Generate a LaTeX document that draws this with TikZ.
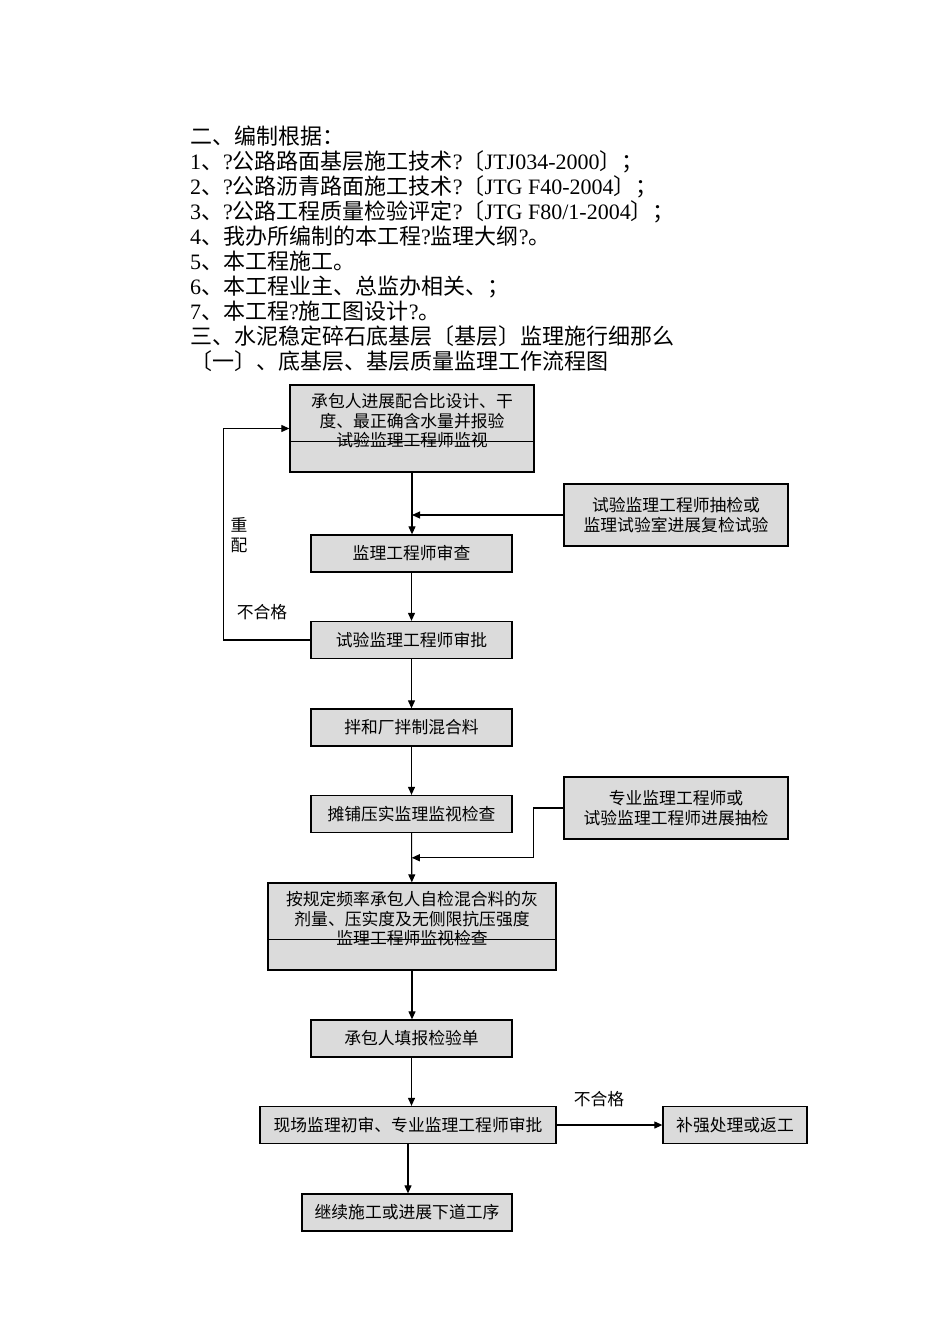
\documentclass[tikz,border=0pt]{standalone}
\usepackage{fontspec}
\setmainfont{Liberation Serif}
\newfontfamily\cjk{Noto Sans CJK SC}
\usetikzlibrary{arrows.meta,calc}
\definecolor{boxgray}{gray}{0.86}

\begin{document}
\begin{tikzpicture}[x=1pt,y=-1pt,
  box/.style={draw,line width=1.3pt,fill=boxgray,minimum height=37pt,inner sep=0pt,
    font=\cjk\fontsize{16.8}{19.5}\selectfont,align=center},
  txt/.style={inner sep=0pt,font=\cjk\fontsize{16.8}{19.5}\selectfont,align=center},
  lbl/.style={inner sep=0pt,font=\cjk\fontsize{16.8}{20}\selectfont,align=center},
  arr/.style={line width=1.1pt,-{Triangle[length=8pt,width=7pt]}}]
\useasboundingbox (0,0) rectangle (950,1344);

% header text
\node[inner sep=0pt,anchor=north west,align=left,font=\fontsize{22}{25}\selectfont] (kaitou) at (190,126) {%
  {\cjk 二、编制根据：}\\
  1{\cjk 、}?{\cjk 公路路面基层施工技术}?{\cjk 〔}JTJ034-2000{\cjk 〕；}\\
  2{\cjk 、}?{\cjk 公路沥青路面施工技术}?{\cjk 〔}JTG F40-2004{\cjk 〕；}\\
  3{\cjk 、}?{\cjk 公路工程质量检验评定}?{\cjk 〔}JTG F80/1-2004{\cjk 〕；}\\
  4{\cjk 、我办所编制的本工程}?{\cjk 监理大纲}?{\cjk 。}\\
  5{\cjk 、本工程施工。}\\
  6{\cjk 、本工程业主、总监办相关、；}\\
  7{\cjk 、本工程}?{\cjk 施工图设计}?{\cjk 。}\\
  {\cjk 三、水泥稳定碎石底基层〔基层〕监理施行细那么}\\
  {\cjk 〔一〕、底基层、基层质量监理工作流程图}};

% boxes
\node[box,minimum width=244pt,minimum height=87pt] (peihebi) at (412,428.5) {};
\node[txt] (peihebitxt) at (412,421) {承包人进展配合比设计、干\\度、最正确含水量并报验\\试验监理工程师监视};
\draw[line width=1pt] ($(peihebi.west)+(0,12.5)$) -- ($(peihebi.east)+(0,12.5)$);

\node[box,minimum width=224pt,minimum height=62pt] (choujian) at (676,515) {试验监理工程师抽检或\\监理试验室进展复检试验};
\node[box,minimum width=201pt] (shencha) at (411.5,553.5) {监理工程师审查};
\node[box,minimum width=201pt] (shenpi) at (411.5,640) {试验监理工程师审批};
\node[box,minimum width=201pt] (banhe) at (411.5,727.5) {拌和厂拌制混合料};
\node[box,minimum width=224pt,minimum height=62pt] (zhuanye) at (676,808) {专业监理工程师或\\试验监理工程师进展抽检};
\node[box,minimum width=201pt] (tanpu) at (411.5,814) {摊铺压实监理监视检查};

\node[box,minimum width=288pt,minimum height=87pt] (anguiding) at (412,926.5) {};
\node[txt] (anguidingtxt) at (412,919) {按规定频率承包人自检混合料的灰\\剂量、压实度及无侧限抗压强度\\监理工程师监视检查};
\draw[line width=1pt] ($(anguiding.west)+(0,12.5)$) -- ($(anguiding.east)+(0,12.5)$);

\node[box,minimum width=201pt] (tianbao) at (411.5,1038.5) {承包人填报检验单};
\node[box,minimum width=296pt] (chushen) at (408,1125) {现场监理初审、专业监理工程师审批};
\node[box,minimum width=144pt] (bujiang) at (735,1125) {补强处理或返工};
\node[box,minimum width=210pt] (jixu) at (407,1212.5) {继续施工或进展下道工序};

% labels
\node[lbl] (chongpei) at (239,535) {重\\配};
\node[lbl] (buhege1) at (262,612) {不合格};
\node[lbl] (buhege2) at (599,1099) {不合格};

% connectors
\draw[arr] (peihebi.south) -- (peihebi.south |- shencha.north);
\draw[arr] (choujian.west) -- (choujian.west -| peihebi.south);
\draw[arr] (shencha) -- (shenpi);
\draw[arr] (shenpi.west) -- ++(-87,0) |- (peihebi.west);
\draw[arr] (shenpi) -- (banhe);
\draw[arr] (banhe) -- (tanpu);
\draw[arr] (tanpu) -- (anguiding);
\draw[arr] (zhuanye.west) -- ++(-30,0) |- ($(tanpu.south)!0.5!(anguiding.north)$);
\draw[arr] (anguiding.south) -- (anguiding.south |- tianbao.north);
\draw[arr] (tianbao.south) -- (tianbao.south |- chushen.north);
\draw[arr] (chushen.east) -- (bujiang.west);
\draw[arr] (chushen.south) -- (chushen.south |- jixu.north);
\end{tikzpicture}
\end{document}
